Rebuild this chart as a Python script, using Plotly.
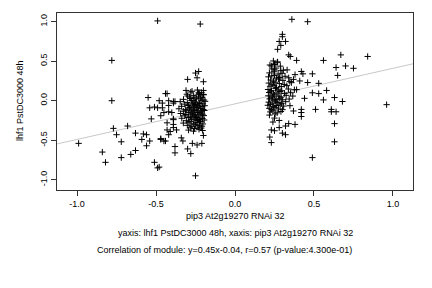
import plotly.graph_objects as go

# ---- data ----
x_outer = [-0.49, -0.78, -0.78, -0.55, -0.44, -0.48, -0.42, -0.39, -0.99, -0.77, -0.75, -0.68,
           -0.72, -0.84, -0.82, -0.72, -0.66, -0.63, -0.63, -0.58, -0.56, -0.59, -0.54, -0.56,
           -0.53, -0.51, -0.49, -0.48, -0.47, -0.45, -0.47, -0.54, -0.51, -0.49, -0.46, -0.46,
           -0.42, -0.45, -0.42, -0.40, -0.43, -0.41, -0.42, -0.39, -0.39, -0.37, -0.38, -0.38,
           -0.39, -0.22, -0.25, -0.23, -0.30, -0.24, -0.20, -0.43, -0.31, -0.28, -0.23, -0.20,
           -0.20, -0.23, -0.30, -0.38, -0.47, -0.44, -0.34, -0.33, -0.30, -0.28, -0.27, -0.24,
           -0.21, -0.20, -0.25, -0.39, -0.43, -0.39]
y_outer = [1.01, 0.51, 0.00, 0.04, 0.09, 0.00, 0.00, -0.01, -0.54, -0.35, -0.43, -0.32,
           -0.52, -0.65, -0.78, -0.72, -0.68, -0.63, -0.41, -0.42, -0.43, -0.49, -0.51, -0.57,
           -0.23, -0.78, -0.85, -0.84, -0.48, -0.51, -0.19, -0.09, -0.08, -0.09, -0.09, -0.03,
           -0.06, -0.15, -0.14, -0.15, -0.37, -0.39, -0.43, -0.23, -0.30, -0.37, -0.58, -0.66,
           -0.03, 0.97, 0.35, 0.37, 0.27, 0.29, 0.24, 0.09, 0.13, 0.11, 0.10, 0.13,
           0.08, 0.08, 0.06, -0.01, -0.49, -0.51, -0.47, -0.51, -0.61, -0.67, -0.54, -0.56,
           -0.54, -0.44, -0.95, -0.34, -0.28, -0.24]

x_left = [-0.272, -0.238, -0.213,
          -0.305, -0.262, -0.226, -0.198,
          -0.287, -0.254, -0.231, -0.207,
          -0.326, -0.283, -0.265, -0.243, -0.219, -0.196,
          -0.347, -0.302, -0.276, -0.251, -0.228, -0.214, -0.189,
          -0.318, -0.293, -0.268, -0.257, -0.236, -0.224, -0.203,
          -0.338, -0.297, -0.284, -0.262, -0.248, -0.233, -0.208, -0.192,
          -0.355, -0.314, -0.288, -0.273, -0.255, -0.241, -0.217, -0.201,
          -0.327, -0.305, -0.279, -0.264, -0.246, -0.229, -0.211, -0.194,
          -0.344, -0.312, -0.293, -0.271, -0.258, -0.238, -0.222, -0.205,
          -0.318, -0.283, -0.267, -0.249, -0.233, -0.215, -0.197,
          -0.337, -0.296, -0.276, -0.252, -0.243, -0.226, -0.206,
          -0.308, -0.285, -0.259, -0.237, -0.218, -0.195,
          -0.327, -0.292, -0.264, -0.246, -0.224, -0.203,
          -0.302, -0.274, -0.251, -0.227, -0.209,
          -0.283, -0.256, -0.235, -0.213,
          -0.294, -0.263, -0.228, -0.205]
y_left = [0.12, 0.135, 0.105,
          0.082, 0.064, 0.093, 0.075,
          0.046, 0.037, 0.058, 0.043,
          0.017, 0.028, 0.004, 0.022, 0.031, 0.009,
          -0.012, -0.024, 0.002, -0.016, -0.027, 0.006, -0.008,
          -0.043, -0.055, -0.032, -0.047, -0.058, -0.036, -0.041,
          -0.071, -0.062, -0.084, -0.069, -0.057, -0.081, -0.074, -0.063,
          -0.102, -0.113, -0.093, -0.106, -0.117, -0.089, -0.098, -0.111,
          -0.133, -0.121, -0.142, -0.128, -0.119, -0.145, -0.131, -0.124,
          -0.162, -0.174, -0.151, -0.166, -0.177, -0.148, -0.157, -0.171,
          -0.192, -0.204, -0.183, -0.196, -0.207, -0.181, -0.189,
          -0.222, -0.213, -0.234, -0.219, -0.211, -0.237, -0.226,
          -0.253, -0.264, -0.242, -0.251, -0.262, -0.244,
          -0.283, -0.271, -0.292, -0.278, -0.269, -0.294,
          -0.312, -0.324, -0.303, -0.316, -0.322,
          -0.343, -0.352, -0.334, -0.346,
          -0.372, -0.385, -0.362, -0.377]

x_right = [0.36, 0.46, 0.30, 0.30, 0.28, 0.32, 0.29, 0.27, 0.34, 0.35, 0.39, 0.56,
           0.27, 0.25, 0.23, 0.33, 0.25, 0.29, 0.42, 0.43, 0.49, 0.38, 0.25, 0.28,
           0.34, 0.37, 0.41, 0.46, 0.53, 0.39, 0.49, 0.53, 0.58, 0.44, 0.56,
           0.67, 0.84, 0.64, 0.70, 0.75, 0.65, 0.63, 0.68, 0.96, 0.61, 0.64, 0.61,
           0.63, 0.63, 0.42, 0.42, 0.42, 0.51, 0.37, 0.25, 0.24, 0.28, 0.23, 0.25,
           0.28, 0.32, 0.34, 0.38, 0.30, 0.32, 0.22, 0.23, 0.49]
y_right = [1.03, 1.00, 0.84, 0.81, 0.75, 0.75, 0.70, 0.65, 0.58, 0.56, 0.51, 0.51,
           0.49, 0.46, 0.44, 0.39, 0.39, 0.38, 0.37, 0.34, 0.34, 0.33, 0.32, 0.29,
           0.29, 0.27, 0.25, 0.23, 0.22, 0.14, 0.10, 0.09, 0.13, 0.03, 0.01,
           0.58, 0.56, 0.42, 0.44, 0.41, 0.32, 0.04, -0.01, -0.05, -0.11, -0.14, -0.14,
           -0.29, -0.52, -0.11, -0.15, -0.20, -0.11, -0.13, -0.22, -0.27, -0.25, -0.37, -0.38,
           -0.34, -0.32, -0.29, -0.30, -0.41, -0.43, -0.46, -0.53, -0.72]

x_rdense = [0.243, 0.268,
            0.221, 0.252, 0.287,
            0.234, 0.259, 0.306,
            0.218, 0.246, 0.273, 0.298,
            0.212, 0.233, 0.262, 0.284, 0.317,
            0.226, 0.244, 0.276, 0.303, 0.347,
            0.214, 0.235, 0.254, 0.281, 0.312, 0.357,
            0.222, 0.247, 0.263, 0.293, 0.328,
            0.209, 0.231, 0.256, 0.274, 0.296, 0.338, 0.376,
            0.216, 0.227, 0.243, 0.266, 0.285, 0.314, 0.352,
            0.211, 0.238, 0.251, 0.277, 0.292, 0.324, 0.366,
            0.219, 0.229, 0.248, 0.261, 0.283, 0.302, 0.343,
            0.213, 0.236, 0.257, 0.271, 0.294, 0.321,
            0.208, 0.224, 0.245, 0.264, 0.286, 0.308, 0.348,
            0.217, 0.232, 0.253, 0.276, 0.301,
            0.223, 0.241, 0.267, 0.291,
            0.218, 0.254]
y_rdense = [0.503, 0.487,
            0.452, 0.464, 0.437,
            0.402, 0.413, 0.386,
            0.352, 0.366, 0.338, 0.347,
            0.302, 0.314, 0.287, 0.296, 0.309,
            0.262, 0.248, 0.273, 0.257, 0.244,
            0.223, 0.208, 0.234, 0.217, 0.206, 0.228,
            0.183, 0.194, 0.168, 0.179, 0.191,
            0.142, 0.128, 0.153, 0.137, 0.126, 0.148, 0.139,
            0.104, 0.113, 0.087, 0.098, 0.116, 0.092, 0.101,
            0.062, 0.048, 0.073, 0.057, 0.046, 0.068, 0.059,
            0.023, 0.034, 0.008, 0.017, 0.031, 0.012, 0.021,
            -0.018, -0.031, -0.007, -0.022, -0.034, -0.012,
            -0.058, -0.047, -0.072, -0.061, -0.052, -0.068, -0.063,
            -0.097, -0.112, -0.088, -0.104, -0.113,
            -0.142, -0.128, -0.153, -0.137,
            -0.182, -0.168]

slope = 0.45
intercept = -0.04
x_range = [-1.127, 1.127]
y_range = [-1.13, 1.11]

x_ticks = [-1.0, -0.5, 0.0, 0.5, 1.0]
x_ticktext = ["-1.0", "-0.5", "0.0", "0.5", "1.0"]
y_ticks = [-1.0, -0.5, 0.0, 0.5, 1.0]
y_ticktext = ["-1.0", "-0.5", "0.0", "0.5", "1.0"]

x_title = "pip3 At2g19270 RNAi 32"
y_title = "lhf1 PstDC3000 48h"
sub1 = "yaxis: lhf1 PstDC3000 48h, xaxis: pip3 At2g19270 RNAi 32"
sub2 = "Correlation of module: y=0.45x-0.04, r=0.57 (p-value:4.300e-01)"

# ---- figure ----
FONT = "Liberation Sans, Arial, sans-serif"
W, H = 432, 288
L, R, T, B = 57, 19, 13, 98
PW, PH = W - L - R, H - T - B

def px_to_paper_y(py):
    return (H - B - py) / PH

def px_to_paper_x(px):
    return (px - L) / PW

xs = x_outer + x_left + x_right + x_rdense
ys = y_outer + y_left + y_right + y_rdense

fig = go.Figure()
fig.add_trace(go.Scatter(
    x=x_range, y=[slope * v + intercept for v in x_range],
    mode="lines", line=dict(color="#c8c8c8", width=1), hoverinfo="skip"))
fig.add_trace(go.Scatter(
    x=xs, y=ys, mode="markers",
    marker=dict(symbol="cross-thin", size=4.5, line=dict(color="black", width=1), color="black")))

axis_common = dict(showgrid=False, zeroline=False, showline=True, linecolor="#333",
                   linewidth=1, mirror=True, ticks="outside", ticklen=5, tickwidth=1,
                   tickcolor="#333", tickfont=dict(family=FONT, size=9, color="black"))

fig.update_xaxes(range=x_range, tickvals=x_ticks, ticktext=x_ticktext, **axis_common)
fig.update_yaxes(range=y_range, tickvals=y_ticks, ticktext=y_ticktext, tickangle=-90,
                 **axis_common)

annots = [
    dict(text=x_title, x=px_to_paper_x(235), y=px_to_paper_y(216)),
    dict(text=sub1, x=px_to_paper_x(235), y=px_to_paper_y(233)),
    dict(text=sub2, x=px_to_paper_x(224), y=px_to_paper_y(250)),
    dict(text=y_title, x=px_to_paper_x(20), y=px_to_paper_y(101), textangle=-90),
]
for a in annots:
    fig.add_annotation(xref="paper", yref="paper", showarrow=False,
                       xanchor="center", yanchor="middle",
                       font=dict(family=FONT, size=9, color="black"), **a)

fig.update_layout(width=W, height=H, margin=dict(l=L, r=R, t=T, b=B),
                  paper_bgcolor="white", plot_bgcolor="white", showlegend=False)

fig.write_html("out.html")
